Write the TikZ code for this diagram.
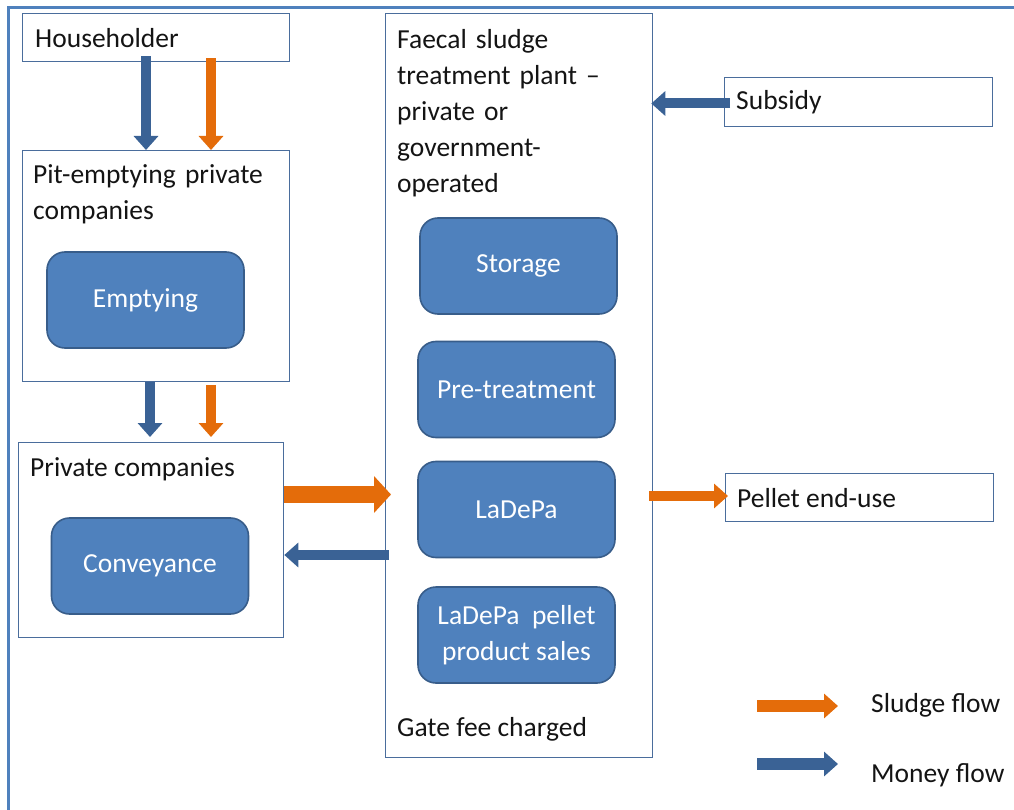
\documentclass[tikz,border=0pt]{standalone}
\usepackage{fontspec}
\setmainfont{Carlito}
\usetikzlibrary{arrows.meta}

\definecolor{framecol}{HTML}{4F81BD}
\definecolor{boxline}{HTML}{4A6D9C}
\definecolor{procfill}{HTML}{4F81BD}
\definecolor{procline}{HTML}{385D8A}
\definecolor{moneycol}{HTML}{3A6295}
\definecolor{sludgecol}{HTML}{E46C0A}
\definecolor{ink}{HTML}{141414}

\tikzset{
  box/.style={draw=boxline, line width=1.3pt, fill=white, anchor=north west, inner sep=0pt},
  proc/.style={draw=procline, line width=1.6pt, fill=procfill, rounded corners=18pt,
    minimum width=197pt, minimum height=96pt, text=white, align=center,
    font=\fontsize{27.5}{36}\selectfont, inner sep=0pt},
  lbl/.style={anchor=base west, inner sep=0pt, text=ink, font=\fontsize{27.5}{36}\selectfont},
  mlbl/.style={lbl, text width=260pt, align=left},
  money/.style={draw=moneycol, line width=10pt, -{Triangle[width=24pt,length=14pt]}},
  sludge/.style={draw=sludgecol, line width=10pt, -{Triangle[width=24pt,length=14pt]}},
  bigsludge/.style={draw=sludgecol, line width=17pt, -{Triangle[width=36pt,length=17pt]}},
}

\begin{document}
\begin{tikzpicture}[x=1pt, y=-1pt]
\useasboundingbox (0,0) rectangle (1014,810);

% page frame
\draw[framecol, line width=2.6pt] (8.5,810) -- (8.5,7.5) -- (1014,7.5);

% outer boxes
\node[box, minimum width=267pt, minimum height=48pt] (hh) at (22,13) {};
\node[box, minimum width=267pt, minimum height=231pt] (pit) at (22,150) {};
\node[box, minimum width=265pt, minimum height=195pt] (pc) at (18,442) {};
\node[box, minimum width=267pt, minimum height=744pt] (fstp) at (385,13) {};
\node[box, minimum width=268pt, minimum height=49pt] (sub) at (724,77) {};
\node[box, minimum width=268pt, minimum height=48pt] (pel) at (725,473) {};

% box texts
\node[lbl] (hht) at (35,48) {Householder};
\node[mlbl] (pitt) at (33,184) {Pit-emptying private\\companies};
\node[lbl] (pct) at (30,476) {Private companies};
\node[mlbl] (fstpt) at (397,49) {Faecal sludge\\treatment plant –\\private or\\government-\\operated};
\node[lbl] (gate) at (397,736) {Gate fee charged};
\node[lbl] (subt) at (736,110) {Subsidy};
\node[lbl] (pelt) at (737,507) {Pellet end-use};

% process steps
\node[proc] (emp) at (145.5,300) {Emptying};
\node[proc] (conv) at (150,566) {Conveyance};
\node[proc] (stor) at (518.5,266) {Storage};
\node[proc] (pre) at (516.5,389.5) {Pre-treatment};
\node[proc] (ladepa) at (516.5,509.5) {LaDePa};
\node[proc] (sales) at (516.5,635) {LaDePa\ \ pellet\\product sales};

% flows between actors
\draw[money]  ([yshift=6pt]hh.south -| 146,0) -- (pit.north -| 146,0);
\draw[sludge] ([yshift=4pt]hh.south -| 211,0) -- (pit.north -| 211,0);
\draw[money]  (pit.south -| 150,0) -- ([yshift=5pt]pc.north -| 150,0);
\draw[sludge] ([yshift=-3pt]pit.south -| 211,0) -- ([yshift=5pt]pc.north -| 211,0);
\draw[bigsludge] (pc.east |- 0,494.5) -- ([xshift=6pt]fstp.west |- 0,494.5);
\draw[money]  ([xshift=4pt]fstp.west |- 0,555) -- (pc.east |- 0,555);
\draw[money]  ([xshift=6pt]sub.west |- 0,103.5) -- ([xshift=-2pt]fstp.east |- 0,103.5);
\draw[sludge] ([xshift=-4pt]fstp.east |- 0,496) -- ([xshift=3pt]pel.west |- 0,496);

% legend
\coordinate (ls0) at (757,706);
\coordinate (ls1) at (838,706);
\coordinate (lm0) at (757,764);
\coordinate (lm1) at (838,764);
\draw[sludge, line width=12pt] (ls0) -- (ls1);
\draw[money, line width=12pt] (lm0) -- (lm1);
\node[lbl] (lst) at (871,712) {Sludge flow};
\node[lbl] (lmt) at (871,782) {Money flow};
\end{tikzpicture}
\end{document}
